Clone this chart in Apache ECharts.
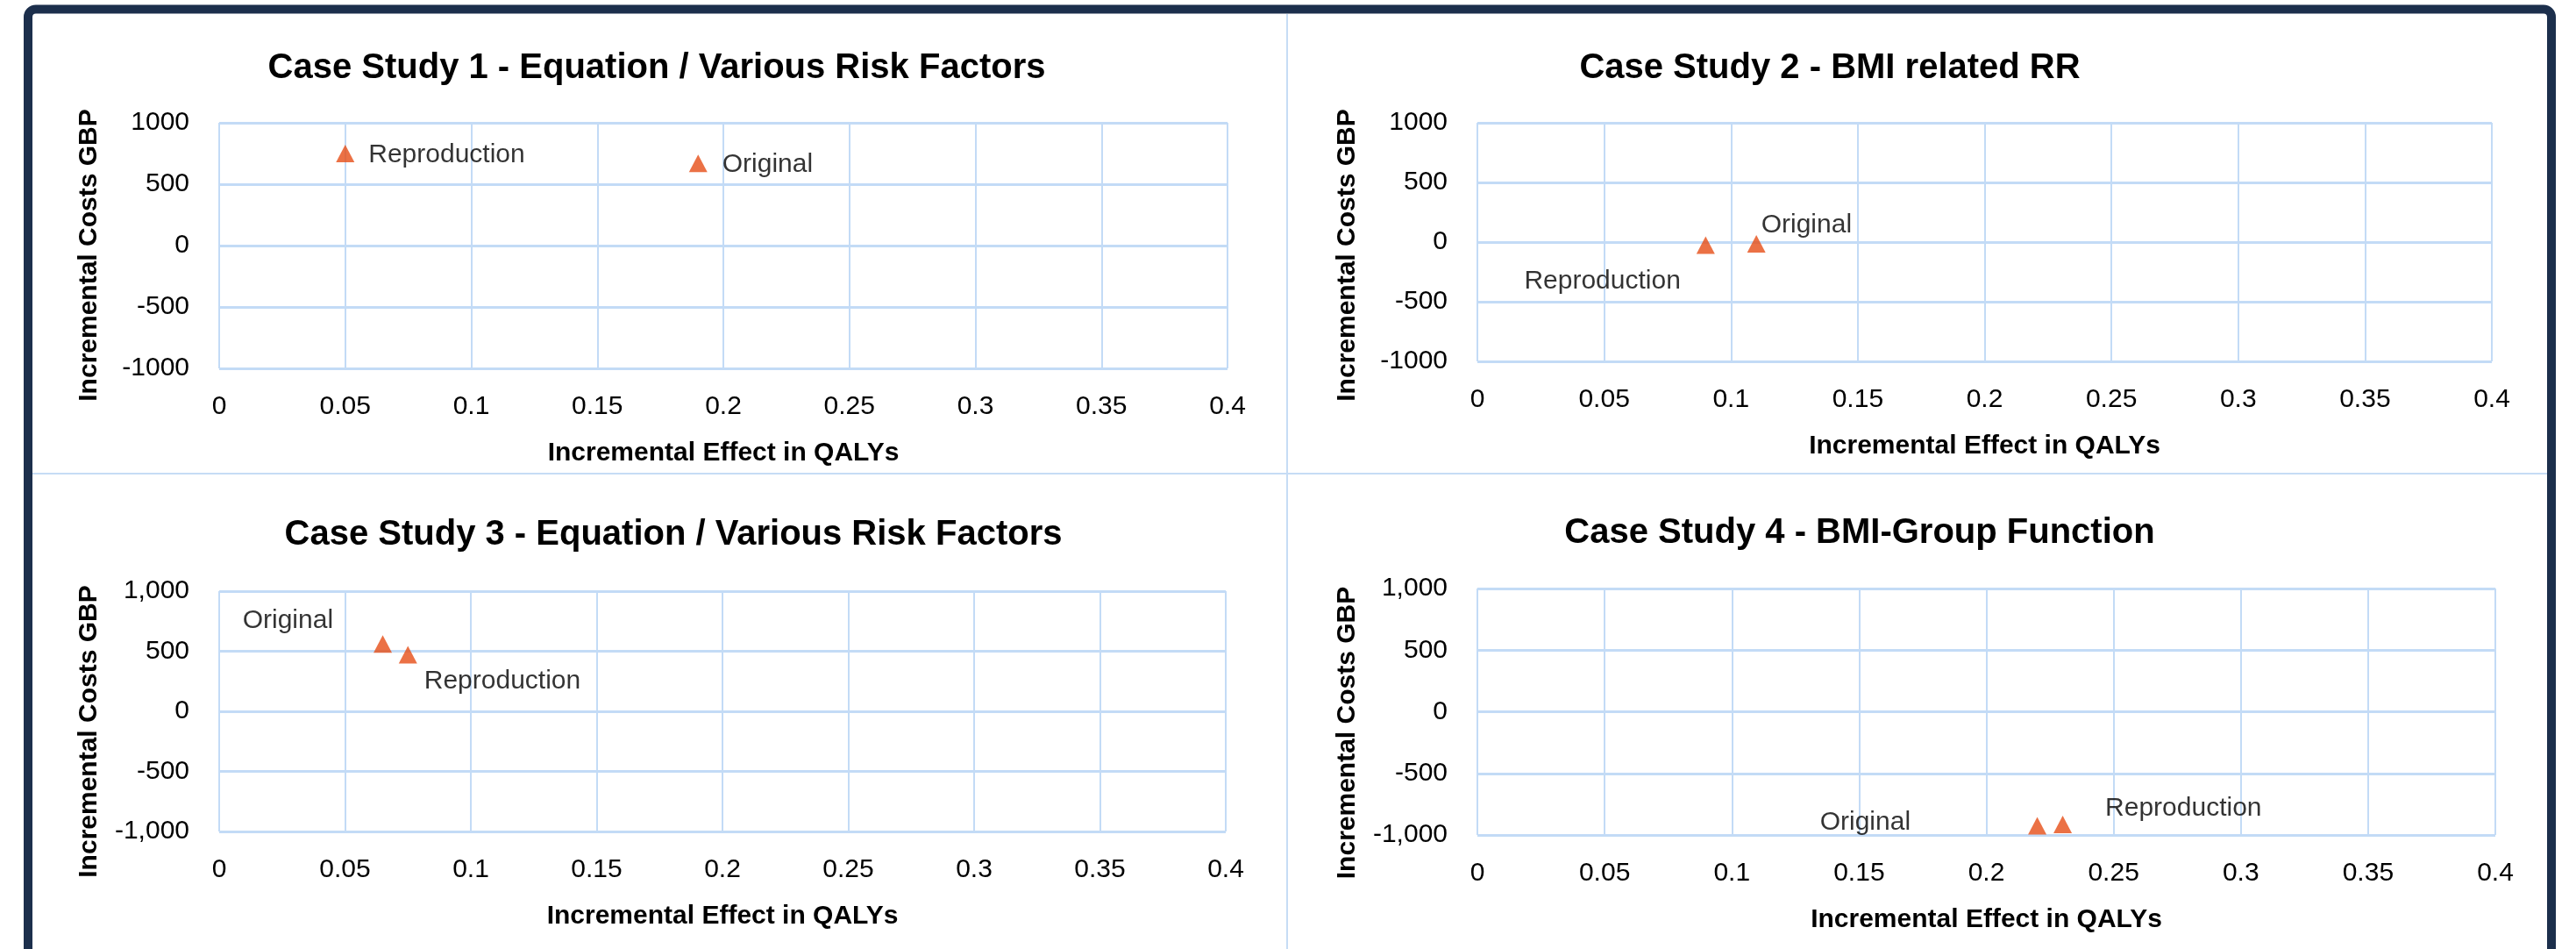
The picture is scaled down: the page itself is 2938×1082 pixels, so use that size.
<!DOCTYPE html>
<html>
<head>
<meta charset="utf-8">
<script src="https://cdn.jsdelivr.net/npm/echarts@6/dist/echarts.min.js"></script>
<style>
  html, body { margin: 0; padding: 0; background: #fff; }
  #chart { width: 2938px; height: 1082px; }
</style>
</head>
<body>
<div id="chart"></div>
<script>
// Four cost-effectiveness planes: incremental effect (QALYs) vs incremental cost (GBP)
const titles = [
  'Case Study 1 - Equation / Various Risk Factors',
  'Case Study 2 - BMI related RR',
  'Case Study 3 - Equation / Various Risk Factors',
  'Case Study 4 - BMI-Group Function'
];
const pointNames = ['Original', 'Reproduction'];

// [QALYs, GBP] in pointNames order
const case1 = [[0.19, 670], [0.05, 750]];
const case2 = [[0.11, -15], [0.09, -25]];
const case3 = [[0.065, 560], [0.075, 470]];
const case4 = [[0.22, -925], [0.23, -915]];

const xTickLabels = ['0', '0.05', '0.1', '0.15', '0.2', '0.25', '0.3', '0.35', '0.4'];
const yTicksPlain = ['-1000', '-500', '0', '500', '1000'];
const yTicksComma = ['-1,000', '-500', '0', '500', '1,000'];

const FONT = 'Liberation Sans, Arial, sans-serif';
const BODY_SIZE = 30;
const half = BODY_SIZE / 2;
const MARKER = '#e64e16';
const GRID_LINE = '#c3dbf6';
const NAVY = '#1c2f4c';

const cases = [case1, case2, case3, case4];
const yLabelSets = [yTicksPlain, yTicksPlain, yTicksComma, yTicksComma];

// plot rectangles (px)
const grids = [
  { left: 250, top: 140, width: 1150, height: 280 },
  { left: 1685, top: 140, width: 1157, height: 272 },
  { left: 250, top: 674, width: 1148, height: 274 },
  { left: 1685, top: 671, width: 1161, height: 281 }
];
const titlePos = [[749, 78], [2087, 78], [768, 610], [2121, 608]];
const yNameShift = [11, 15, 23, 24];
// where each point label sits: [side, gap, dy]
const labelPlace = [
  [['right', 17, 2], ['right', 16, 2]],
  [['right', -5, -21], ['left', 18, 41]],
  [['left', 46, -27], ['right', 8, 30]],
  [['left', 134, -4], ['right', 38, -18]]
];

const textBase = { color: '#000', fontFamily: FONT, fontSize: BODY_SIZE };

const chart = echarts.init(document.getElementById('chart'));

const option = {
  animation: false,
  backgroundColor: '#fff',
  grid: grids.map(g => ({ ...g, containLabel: false })),
  xAxis: grids.map((g, i) => ({
    gridIndex: i,
    type: 'value',
    min: 0,
    max: 0.4,
    interval: 0.05,
    axisLine: { show: false },
    axisTick: { show: false },
    splitLine: { lineStyle: { color: GRID_LINE, width: 2 } },
    axisLabel: {
      ...textBase,
      margin: 44 - half,
      formatter: v => xTickLabels[Math.round(v / 0.05)]
    },
    name: 'Incremental Effect in QALYs',
    nameLocation: 'middle',
    nameGap: 97 - half,
    nameTextStyle: { ...textBase, fontWeight: 'bold' }
  })),
  yAxis: grids.map((g, i) => ({
    gridIndex: i,
    type: 'value',
    min: -1000,
    max: 1000,
    interval: 500,
    axisLine: { show: false },
    axisTick: { show: false },
    splitLine: { lineStyle: { color: GRID_LINE, width: 3 } },
    axisLabel: {
      ...textBase,
      margin: 34,
      formatter: v => yLabelSets[i][Math.round((v + 1000) / 500)]
    },
    name: 'Incremental Costs GBP',
    nameLocation: 'middle',
    nameGap: 148 - half,
    nameRotate: 90,
    nameTextStyle: { ...textBase, fontWeight: 'bold', padding: [0, yNameShift[i] * 2, 0, 0] }
  })),
  series: cases.map((pts, i) => ({
    type: 'scatter',
    xAxisIndex: i,
    yAxisIndex: i,
    symbol: 'triangle',
    symbolSize: [21, 20],
    itemStyle: { color: MARKER },
    data: pts.map((p, j) => {
      const [side, gap, dy] = labelPlace[i][j];
      return {
        name: pointNames[j],
        value: p,
        label: {
          show: true,
          ...textBase,
          position: side,
          distance: 0,
          offset: [side === 'right' ? gap : -gap, dy],
          formatter: '{b}'
        }
      };
    })
  })),
  graphic: [
    // panel dividers
    { type: 'line', shape: { x1: 1468, y1: 16, x2: 1468, y2: 1082 }, style: { stroke: '#c6dcf5', lineWidth: 2 } },
    { type: 'line', shape: { x1: 37, y1: 540, x2: 2905, y2: 540 }, style: { stroke: '#c6dcf5', lineWidth: 2 } },
    // outer frame, open at the bottom
    {
      type: 'rect',
      shape: { x: 32, y: 10.5, width: 2878, height: 1200, r: [9, 9, 0, 0] },
      style: { fill: 'none', stroke: NAVY, lineWidth: 10 },
      z: 100
    },
    ...titles.map((t, i) => ({
      type: 'text',
      x: titlePos[i][0],
      y: titlePos[i][1],
      style: {
        text: t,
        fill: '#000',
        fontFamily: FONT,
        fontSize: 40,
        fontWeight: 'bold',
        align: 'center',
        verticalAlign: 'middle'
      }
    }))
  ]
};

chart.setOption(option);
</script>
</body>
</html>
